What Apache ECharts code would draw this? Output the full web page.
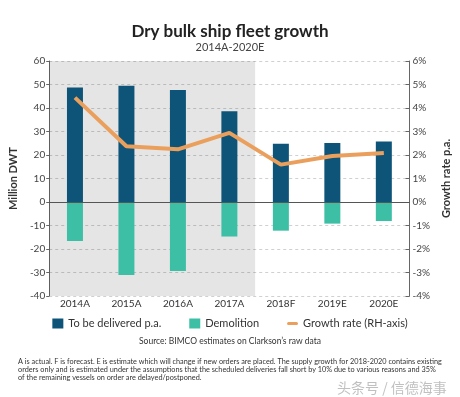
<!DOCTYPE html>
<html>
<head>
<meta charset="utf-8">
<script src="https://cdn.jsdelivr.net/npm/echarts@6/dist/echarts.min.js"></script>
<style>html,body{margin:0;padding:0;background:#fff}#c{width:460px;height:397px}</style>
</head>
<body>
<div id="c"></div>
<script>
const categories = ['2014A','2015A','2016A','2017A','2018F','2019E','2020E'];
const delivered = [48.7, 49.5, 47.7, 38.6, 24.8, 25.1, 25.7];
const demolition = [-16.6, -31.1, -29.4, -14.7, -12.2, -9.2, -8.1];
const growthRate = [4.44, 2.37, 2.24, 2.94, 1.59, 1.96, 2.09];
const leftTicks = {min: -40, max: 60, interval: 10};
const rightTicks = {min: -4, max: 6, interval: 1};
const actualSpan = [0, 4]; // first four categories shaded (actuals)

const F = 'Lato, "Noto Sans", sans-serif';
const chart = echarts.init(document.getElementById('c'), null, {renderer: 'canvas'});
chart.setOption({
  animation: false,
  textStyle: {fontFamily: F},
  title: [
    {text: 'Dry bulk ship fleet growth', left: 'center', top: 18,
     textStyle: {fontFamily: F, fontSize: 17, fontWeight: 'bold', color: '#222'}},
    {text: '2014A-2020E', left: 'center', top: 37,
     textStyle: {fontFamily: F, fontSize: 11, fontWeight: 'normal', color: '#444'}},
    {text: 'Source: BIMCO estimates on Clarkson\u2019s raw data', left: 'center', top: 332,
     textStyle: {fontFamily: F, fontSize: 8.5, fontWeight: 'normal', color: '#333'}},
    {text: 'A is actual. F is forecast. E is estimate which will change if new orders are placed. The supply growth for 2018-2020 contains existing\norders only and is estimated under the assumptions that the scheduled deliveries fall short by 10% due to various reasons and 35%\nof the remaining vessels on order are delayed/postponed.',
     left: 13, top: 353,
     textStyle: {fontFamily: F, fontSize: 7.3, fontWeight: 'normal', color: '#333', lineHeight: 7.7}},
    {text: '头条号 / 信德海事', left: 332, top: 376,
     textStyle: {fontFamily: '"Noto Sans CJK SC", sans-serif', fontSize: 14, fontWeight: 'normal', color: 'rgba(140,140,140,0.55)'}}
  ],
  legend: {
    left: 'center', top: 313, itemGap: 28, itemWidth: 11, itemHeight: 10,
    textStyle: {fontFamily: F, fontSize: 11, color: '#333'},
    data: [
      {name: 'To be delivered p.a.', icon: 'rect'},
      {name: 'Demolition', icon: 'rect'},
      {name: 'Growth rate (RH-axis)', icon: 'path://M2 0 H12 A2 2 0 0 1 12 4 H2 A2 2 0 0 1 2 0 Z'}
    ]
  },
  grid: {left: 41, right: 44, top: 61, bottom: 101},
  xAxis: [
    {type: 'category', data: categories, boundaryGap: true,
     axisLine: {show: false}, axisTick: {show: false},
     axisLabel: {color: '#333', fontSize: 10, margin: 3}},
    {type: 'value', min: 0, max: categories.length, show: false}
  ],
  yAxis: [
    {type: 'value', min: leftTicks.min, max: leftTicks.max, interval: leftTicks.interval,
     name: 'Million DWT', nameLocation: 'middle', nameGap: 20, nameRotate: 90,
     nameTextStyle: {fontFamily: F, fontSize: 11, fontWeight: 'bold', color: '#333'},
     axisLine: {show: true, lineStyle: {color: '#666'}},
     axisTick: {show: true, length: 3, lineStyle: {color: '#666'}},
     axisLabel: {color: '#444', fontSize: 10, margin: 4},
     splitLine: {show: true, lineStyle: {color: '#d0d0d0', type: [3, 3]}}},
    {type: 'value', min: rightTicks.min, max: rightTicks.max, interval: rightTicks.interval,
     position: 'right',
     name: 'Growth rate p.a.', nameLocation: 'middle', nameGap: 22, nameRotate: 90,
     nameTextStyle: {fontFamily: F, fontSize: 11, fontWeight: 'bold', color: '#333'},
     axisLine: {show: true, lineStyle: {color: '#666'}},
     axisTick: {show: true, inside: true, length: 4, lineStyle: {color: '#666'}},
     axisLabel: {color: '#444', fontSize: 10, margin: 3, formatter: '{value}%'},
     splitLine: {show: false}}
  ],
  series: [
    {name: 'shade', type: 'scatter', xAxisIndex: 1, yAxisIndex: 0, data: [[0, 0]],
     symbolSize: 0, silent: true, z: 0,
     markArea: {silent: true, itemStyle: {color: 'rgba(0,0,0,0.10)'},
       data: [[{xAxis: actualSpan[0]}, {xAxis: actualSpan[1]}]]}},
    {name: 'To be delivered p.a.', type: 'bar', stack: 'a', data: delivered,
     barWidth: 16, itemStyle: {color: '#0D5478'}, z: 2,
     markLine: {silent: true, symbol: 'none', label: {show: false},
       lineStyle: {color: '#555', type: 'solid', width: 1},
       data: [{yAxis: 0}]}},
    {name: 'Demolition', type: 'bar', stack: 'a', data: demolition,
     barWidth: 16, itemStyle: {color: '#3DBFA6'}, z: 2},
    {name: 'Growth rate (RH-axis)', type: 'line', yAxisIndex: 1, data: growthRate,
     symbol: 'none', z: 5, lineStyle: {color: '#EAA05C', width: 4},
     itemStyle: {color: '#EAA05C'}}
  ]
});
</script>
</body>
</html>
